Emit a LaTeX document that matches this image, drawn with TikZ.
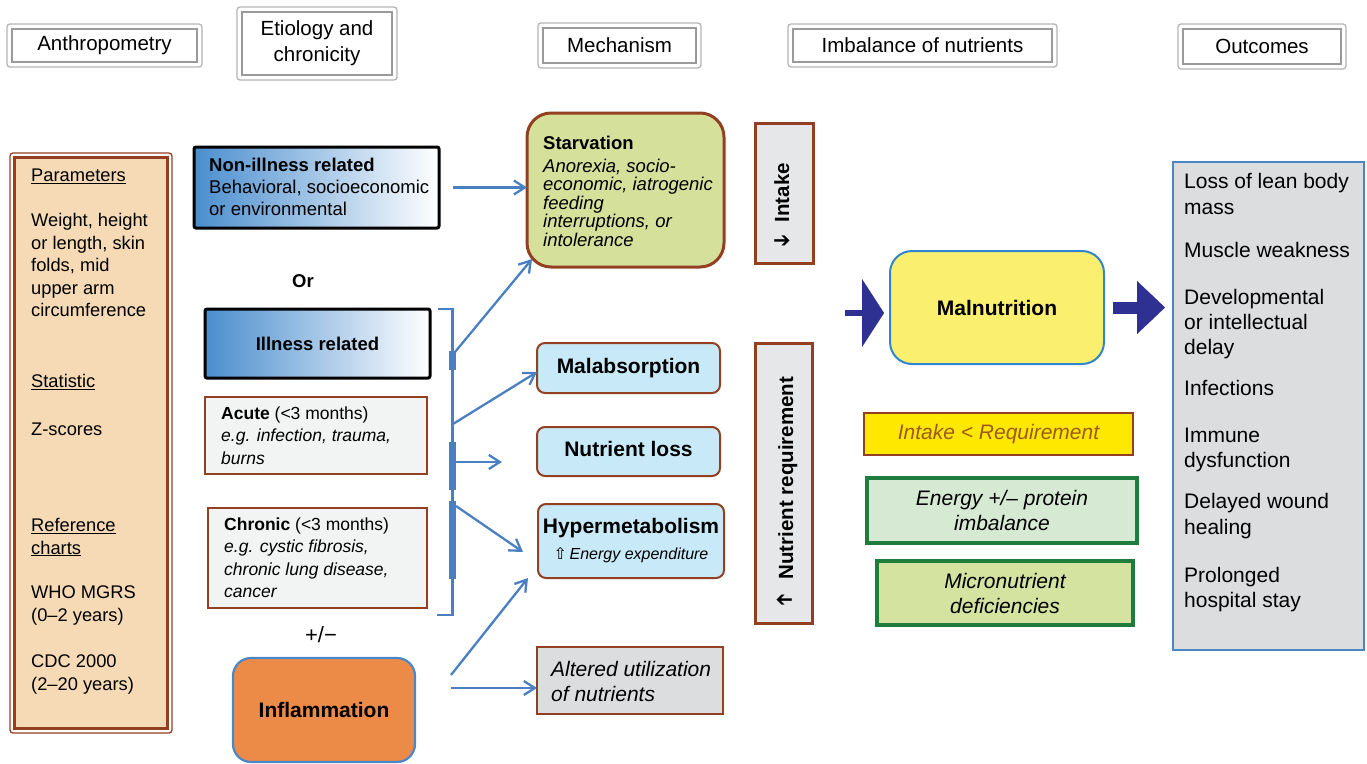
\documentclass[tikz,border=0pt]{standalone}
\usepackage{fontspec}
\setmainfont{Liberation Sans}
\newfontfamily\arrowsym{DejaVu Sans}
\usetikzlibrary{arrows.meta}

\definecolor{hdrout}{HTML}{B5B5B5}
\definecolor{hdrin}{HTML}{9A9A9A}
\definecolor{brn}{HTML}{923F22}
\definecolor{peach}{HTML}{F5DAB5}
\definecolor{lnblue}{HTML}{4A80C2}
\definecolor{gradblue}{HTML}{4A8ECE}
\definecolor{palegray}{HTML}{F2F3F3}
\definecolor{starvfill}{HTML}{D5E19B}
\definecolor{ltblue}{HTML}{C8E9F8}
\definecolor{midgray}{HTML}{DCDDDF}
\definecolor{intkgray}{HTML}{E6E7E8}
\definecolor{malyel}{HTML}{FAEF6E}
\definecolor{malbord}{HTML}{2F86CF}
\definecolor{navy}{HTML}{2E3191}
\definecolor{reqyel}{HTML}{FFE800}
\definecolor{reqtxt}{HTML}{9C5A18}
\definecolor{grnbord}{HTML}{1F7C3C}
\definecolor{energyfill}{HTML}{D6EAD3}
\definecolor{microfill}{HTML}{D4E3A0}
\definecolor{inflfill}{HTML}{EC8B47}
\definecolor{boxblue}{HTML}{4A86C8}

\begin{document}
\begin{tikzpicture}[x=1pt,y=-1pt,
 bx/.style={anchor=north west, inner sep=0pt, outer sep=0pt},
 hdr/.style={bx, draw=hdrout, line width=1.3pt, rounded corners=3pt, fill=white, align=center, font=\fontsize{20.5}{26}\selectfont},
 hdrinner/.style={draw=hdrin, line width=2pt},
 txt/.style={anchor=base west, inner sep=0pt, align=left},
 gradbox/.style={bx, draw=black, line width=3pt, rounded corners=2pt, left color=gradblue, right color=white},
 etbox/.style={bx, draw=brn, line width=2.5pt, fill=palegray},
 mech/.style={bx, draw=brn, line width=2pt, rounded corners=8pt, fill=ltblue, font=\fontsize{21}{26}\selectfont\bfseries, align=center},
 sidebox/.style={bx, draw=brn, line width=3pt, fill=intkgray},
 vtxt/.style={rotate=90, anchor=base, inner sep=0pt, font=\fontsize{20.5}{24}\selectfont\bfseries},
 imb/.style={bx, line width=4pt, draw=grnbord, align=center, font=\fontsize{21}{25}\selectfont\itshape},
 conn/.style={draw=lnblue, line width=2.3pt, -{Straight Barb[length=11pt,width=14pt]}},
 brk/.style={draw=lnblue, line width=2.5pt},
 brkthick/.style={draw=lnblue, line width=7pt},
 bigarr/.style={draw=navy}
]
\useasboundingbox (0,0) rectangle (1367,763);

% headers
\node[hdr, minimum width=195pt, minimum height=43pt] (hA) at (7,24) {Anthropometry};
\node[hdr, minimum width=160pt, minimum height=73pt] (hE) at (237,7) {Etiology and\\chronicity};
\node[hdr, minimum width=163pt, minimum height=45pt] (hM) at (538,23) {Mechanism};
\node[hdr, minimum width=269pt, minimum height=43pt] (hI) at (788,24) {Imbalance of nutrients};
\node[hdr, minimum width=168pt, minimum height=45pt] (hO) at (1178,24) {Outcomes};
\foreach \n in {hA,hE,hM,hI,hO}
  \draw[hdrinner] ([shift={(5,5)}]\n.north west) rectangle ([shift={(-5,-5)}]\n.south east);

% anthropometry column (multi-line text nodes are placed by their last baseline)
\node[bx, draw=brn, line width=1.3pt, rounded corners=3pt, fill=white, minimum width=162pt, minimum height=580pt] (anth) at (10,153) {};
\draw[draw=brn, line width=2.5pt, fill=peach] ([shift={(4.5,4.5)}]anth.north west) rectangle ([shift={(-4.5,-4.5)}]anth.south east);
\node[txt, font=\fontsize{18.3}{22.6}\selectfont] (anthtxt) at (31,690) {\underline{Parameters}\\[22.4pt]Weight, height\\or length, skin\\folds, mid\\upper arm\\circumference\\[48pt]\underline{Statistic}\\[25.4pt]Z-scores\\[73.4pt]\underline{Reference}\\\underline{charts}\\[21.8pt]WHO MGRS\\(0–2 years)\\[23.8pt]CDC 2000\\(2–20 years)};

% etiology
\node[gradbox, minimum width=245pt, minimum height=81pt] (nonill) at (194,147) {};
\node[txt, font=\fontsize{18.5}{22}\selectfont] (nonilltxt) at (209,215) {\textbf{Non-illness related}\\Behavioral, socioeconomic\\or environmental};
\node[anchor=base, inner sep=0pt, font=\fontsize{18.5}{22}\selectfont\bfseries] (or) at (303,287) {Or};
\node[gradbox, minimum width=225pt, minimum height=69pt, font=\fontsize{18.5}{22}\selectfont\bfseries] (ill) at (205,309) {Illness related};
\node[etbox, minimum width=222pt, minimum height=77pt] (acute) at (205,397) {};
\node[txt, font=\fontsize{17.5}{22.5}\selectfont] (acutetxt) at (221,464) {\textbf{Acute} (<3 months)\\\textit{e.g. infection, trauma,}\\\textit{burns}};
\node[etbox, minimum width=219pt, minimum height=100pt] (chronic) at (208,508) {};
\node[txt, font=\fontsize{17.5}{22.5}\selectfont] (chrontxt) at (224,597.5) {\textbf{Chronic} (<3 months)\\\textit{e.g. cystic fibrosis,}\\\textit{chronic lung disease,}\\\textit{cancer}};
\node[anchor=base, inner sep=0pt, font=\fontsize{22}{26}\selectfont] (pm) at (321,642) {+/−};
\node[bx, draw=boxblue, line width=2.2pt, rounded corners=18pt, fill=inflfill, minimum width=182pt, minimum height=104pt, font=\fontsize{21}{26}\selectfont\bfseries] (infl) at (233,658) {Inflammation};

% bracket
\coordinate (bt) at (438,309);
\coordinate (bb) at (437,615);
\draw[brk] (bt) -- (452.5,309) -- (452.5,615) -- (bb);
\draw[brkthick] (452.5,351) -- (452.5,370);
\draw[brkthick] (452.5,442) -- (452.5,490);
\draw[brkthick] (452.5,501) -- (452.5,579);

% mechanism
\node[bx, draw=brn, line width=3pt, rounded corners=24pt, fill=starvfill, minimum width=197pt, minimum height=154pt] (starv) at (527,113) {};
\node[txt, font=\fontsize{18.5}{18.5}\selectfont] (starvtxt) at (543,246) {\textbf{Starvation}\\[4.5pt]\textit{Anorexia, socio-}\\\textit{economic, iatrogenic}\\\textit{feeding}\\\textit{interruptions, or}\\\textit{intolerance}};
\node[mech, minimum width=183pt, minimum height=50pt, text height=15.3pt, text depth=4.4pt] (malab) at (537,343) {Malabsorption};
\node[mech, minimum width=183pt, minimum height=49pt, text height=15.3pt, text depth=4.4pt] (nloss) at (537,427) {Nutrient loss};
\node[mech, minimum width=186pt, minimum height=74pt] (hyper) at (538,504) {Hypermetabolism\\{\fontsize{16}{26}\selectfont\mdseries\itshape{\arrowsym\upshape ⇧}\,Energy expenditure}};
\node[bx, draw=brn, line width=2.5pt, fill=midgray, minimum width=186pt, minimum height=67pt] (alter) at (537,647) {};
\node[txt, font=\fontsize{21}{25}\selectfont\itshape] (altertxt) at (551,701) {Altered utilization\\of nutrients};

% intake / requirement
\node[sidebox, minimum width=58pt, minimum height=140pt] (intake) at (755,123) {};
\node[vtxt] (intaketxt) at (789,205.5) {\raisebox{16pt}{\rotatebox{-90}{\arrowsym\bfseries\fontsize{21}{21}\selectfont ➔}}\hspace{14pt}Intake};
\node[sidebox, minimum width=57pt, minimum height=280pt] (nreq) at (755,343) {};
\node[vtxt] (nreqtxt) at (793,491) {\rotatebox{90}{\arrowsym\bfseries\fontsize{21}{21}\selectfont ➔}\hspace{14pt}Nutrient requirement};

% imbalance
\node[bx, draw=malbord, line width=2pt, rounded corners=22pt, fill=malyel, minimum width=214pt, minimum height=113pt, font=\fontsize{21}{26}\selectfont\bfseries] (mal) at (890,251) {Malnutrition};
\node[bx, draw=brn, line width=1.5pt, fill=reqyel, minimum width=269pt, minimum height=42pt, font=\fontsize{21}{26}\selectfont\itshape, text=reqtxt, text height=15.3pt, text depth=4.4pt] (req) at (864,413) {Intake < Requirement};
\node[imb, fill=energyfill, minimum width=270pt, minimum height=65pt] (energy) at (867,478) {Energy +/– protein\\imbalance};
\node[imb, fill=microfill, minimum width=256pt, minimum height=64pt] (micro) at (877,561) {Micronutrient\\deficiencies};

% outcomes
\node[bx, draw=boxblue, line width=2.2pt, fill=midgray, minimum width=191pt, minimum height=488pt] (outc) at (1173,162) {};
\node[txt, font=\fontsize{21}{25.3}\selectfont] (outctxt) at (1184,607.5) {Loss of lean body\\mass\\[17.7pt]Muscle weakness\\[21.7pt]Developmental\\or intellectual\\delay\\[15.7pt]Infections\\[21.7pt]Immune\\dysfunction\\[15.7pt]Delayed wound\\healing\\[22.7pt]Prolonged\\hospital stay};

% connectors
\coordinate (b1) at (455,352);
\coordinate (b2) at (453,424);
\coordinate (b3) at (456,462);
\coordinate (b4) at (456,506);
\coordinate (i1) at (451,675);
\coordinate (i2) at (451,688);
\coordinate (e1) at (532,259);
\coordinate (e3) at (502,462);
\coordinate (e4) at (523,552);
\coordinate (e5) at (528,578);
\draw[conn, shorten <=14pt] (nonill.east) -- (nonill.east -| starv.west);
\draw[conn] (b1) -- (e1);
\draw[conn] (b2) -- ([yshift=-4pt]malab.west);
\draw[conn] (b3) -- (e3);
\draw[conn] (b4) -- (e4);
\draw[conn] (i1) -- (e5);
\draw[conn] (i2) -- (i2 -| alter.west);

% big arrows
\coordinate (malin) at (845,313);
\draw[bigarr, line width=6pt, -{Triangle[length=22pt,width=68pt,line width=0.1pt]}] (malin) -- ([xshift=-6pt]malin -| mal.west);
\draw[bigarr, line width=12pt, -{Triangle[length=28pt,width=53pt,line width=0.1pt]}] ([xshift=9pt]mal.east) -- ([xshift=-8pt]mal.east -| outc.west);
\end{tikzpicture}
\end{document}
